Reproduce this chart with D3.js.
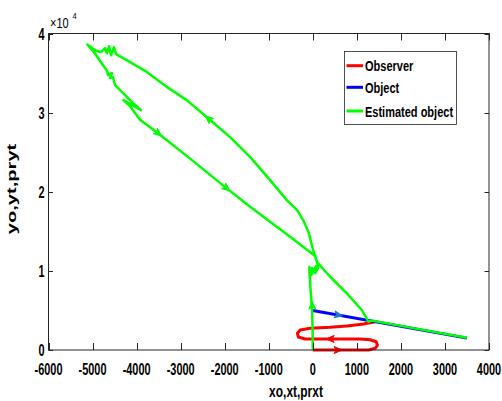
<!DOCTYPE html>
<html><head><meta charset="utf-8">
<script src="https://cdn.jsdelivr.net/npm/d3@7"></script>
<style>body{margin:0;background:#fff}svg{display:block}</style>
</head><body><svg id="c" width="502" height="401"></svg>
<script>
// ---------- data ----------
const xTicks = [-6000,-5000,-4000,-3000,-2000,-1000,0,1000,2000,3000,4000];
const xTickLabels = ["-6000","-5000","-4000","-3000","-2000","-1000","0","1000","2000","3000","4000"];
const yTicks = [0,10000,20000,30000,40000];
const yTickLabels = ["0","1","2","3","4"];
const seriesNames = ["Observer","Object","Estimated object"];

const observerPath = [[0,0],[575,0],[1263,0],[1415,215],[1467,594],[1438,1048],[1302,1301],[1075,1389],
  [600,1400],[100,1395],[-175,1389],[-327,1642],[-350,2109],[-288,2526],[-61,2741],[393,2867],
  [772,3031],[1150,3284],[1415,3574],[1450,3650]];
const objectPath = [[0,5000],[3500,1500]];
const estimatedPath = [[0,0],[-5,2526],[-16,5052],[-50,7578],[-73,9473],[-77,10483],[-61,9851],
  [-16,10356],[-39,9473],[30,10104],[75,10609],[52,9725],[120,10356],[98,11114],[64,11746],
  [7,12630],[-50,13893],[-100,14941],[-220,16419],[-357,17682],[-590,18945],[-970,21471],
  [-1426,24414],[-1878,26902],[-2371,29264],[-2862,31575],[-3316,33255],[-3770,35149],
  [-4224,36627],[-4467,37385],[-4513,38269],[-4581,37259],[-4626,38395],[-4672,37511],
  [-4717,38143],[-4808,37638],[-4944,37890],[-5119,38610],[-4944,37473],[-4792,36210],
  [-4678,35364],[-4649,34733],[-4558,34985],[-4604,34354],[-4535,34480],[-4490,33469],
  [-4301,32421],[-4074,31158],[-3899,30312],[-4301,31575],[-4149,30817],[-3922,29112],
  [-3506,27369],[-2786,24187],[-1953,20423],[-1424,18099],[-516,14310],[52,11872],[91,11152],
  [393,9258],[772,7161],[1113,5052],[1263,3574],[1330,3720],[2000,3050],[2800,2250],[3500,1560]];
// arrows: [x, y, towardX, towardY]
const observerArrows = [[575,0,900,0],[393,1395,0,1395]];
const objectArrows = [[583,4417,1000,4000]];
const estimatedArrows = [[-16,5683,-30,7000],[-2371,29264,-2862,31575],[-3506,27369,-2786,24187],[-1953,20423,-1424,18099]];

// ---------- layout ----------
const L = 48.5, R = 489, T = 33.5, B = 350;
const svg = d3.select("#c");
const x = d3.scaleLinear().domain([-6000,4000]).range([L,R]);
const y = d3.scaleLinear().domain([0,40000]).range([B,T]);
const axisCol = "#262626";
const FONT = "'Liberation Sans', Arial, sans-serif";

function stext(parent, px, py, str, o) {
  const g = parent.append("g").attr("transform", `translate(${px},${py}) scale(${o.sx||1},${o.sy||1})${o.rot?` rotate(${o.rot})`:""}`);
  return g.append("text").attr("x",0).attr("y",0)
    .attr("font-family", FONT).attr("font-size", o.size||12)
    .attr("font-weight", o.weight||"bold").attr("fill", o.fill||"#000")
    .attr("text-anchor", o.anchor||"start").text(str);
}

svg.append("rect").attr("x",L).attr("y",T).attr("width",R-L).attr("height",B-T).attr("fill","#fff");

const line = d3.line().x(d=>x(d[0])).y(d=>y(d[1]));
const plot = svg.append("g");
plot.append("path").datum(observerPath).attr("d",line).attr("fill","none").attr("stroke","#ff0000").attr("stroke-width",3).attr("stroke-linejoin","round");
plot.append("path").datum(objectPath).attr("d",line).attr("fill","none").attr("stroke","#0000ff").attr("stroke-width",3);
plot.append("path").datum(estimatedPath).attr("d",line).attr("fill","none").attr("stroke","#00ff00").attr("stroke-width",2.5).attr("stroke-linejoin","round");

function arrows(list, col) {
  list.forEach(a => {
    const px = x(a[0]), py = y(a[1]);
    const ang = Math.atan2(y(a[3])-py, x(a[2])-px);
    const c = Math.cos(ang), s = Math.sin(ang);
    const tip = [px + 4*c, py + 4*s];
    const back = [px - 4*c, py - 4*s];
    const notch = [px - 2*c, py - 2*s];
    const l = [back[0] - 3.5*s, back[1] + 3.5*c];
    const r = [back[0] + 3.5*s, back[1] - 3.5*c];
    plot.append("path").attr("d", `M${tip}L${l}L${notch}L${r}Z`)
      .attr("fill", col).attr("stroke", col).attr("stroke-width", 1).attr("stroke-linejoin","round");
  });
}
arrows(observerArrows, "#ff0000");
arrows(objectArrows, "#1f77d8");
arrows(estimatedArrows, "#00ff00");

const ax = svg.append("g").attr("stroke", axisCol).attr("stroke-width", 1).attr("fill","none");
ax.append("rect").attr("x",L).attr("y",T).attr("width",R-L).attr("height",B-T);
xTicks.forEach(v => {
  const px = Math.round(x(v)) + 0.5;
  ax.append("line").attr("x1",px).attr("x2",px).attr("y1",B).attr("y2",B-7);
  ax.append("line").attr("x1",px).attr("x2",px).attr("y1",T).attr("y2",T+7);
});
yTicks.forEach(v => {
  const py = Math.round(y(v)) + 0.5;
  ax.append("line").attr("x1",L).attr("x2",L+4.5).attr("y1",py).attr("y2",py);
  ax.append("line").attr("x1",R).attr("x2",R-4.5).attr("y1",py).attr("y2",py);
});

xTicks.forEach((v,i) => stext(svg, x(v), 375, xTickLabels[i], {anchor:"middle", sx:0.91, sy:1.42}));
yTicks.forEach((v,i) => stext(svg, 44.5, y(v)+6.2, yTickLabels[i], {anchor:"end", sx:0.91, sy:1.42}));

stext(svg, 50, 28, "\u00d710", {size:11, weight:"normal", sx:1, sy:1.27});
stext(svg, 72.5, 18.5, "4", {size:7.5, weight:"normal", sx:1, sy:1.27});

stext(svg, 296, 396.5, "xo,xt,prxt", {anchor:"middle", size:13, sx:0.92, sy:1.3});
stext(svg, 15.5, 189, "yo,yt,pryt", {anchor:"middle", size:13, sx:1.0, sy:1.55, rot:-90});

const lg = svg.append("g");
lg.append("rect").attr("x",344.5).attr("y",51.5).attr("width",112).attr("height",73)
  .attr("fill","#fff").attr("stroke",axisCol).attr("stroke-width",0.8);
const legCols = ["#ff0000","#0000ff","#00ff00"];
const legY = [65.7, 87.3, 111];
seriesNames.forEach((n,i) => {
  lg.append("line").attr("x1",346.5).attr("x2",363).attr("y1",legY[i]).attr("y2",legY[i])
    .attr("stroke",legCols[i]).attr("stroke-width",3);
  stext(lg, 365, legY[i]+5.5, n, {size:12, sx:0.917, sy:1.28});
});
</script></body></html>
